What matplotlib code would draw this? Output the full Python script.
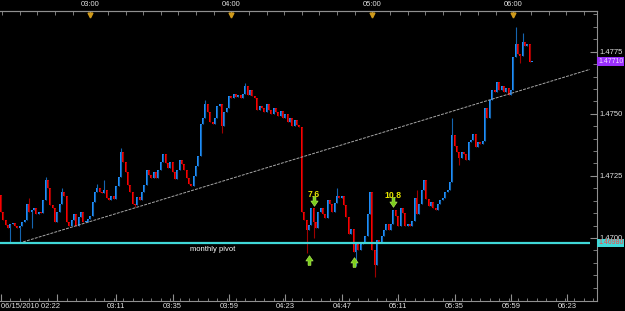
import matplotlib.pyplot as plt
import numpy as np
from matplotlib.path import Path
from matplotlib.transforms import blended_transform_factory

plt.rcParams['font.family'] = ['Liberation Sans Narrow', 'DejaVu Sans Condensed',
                               'Liberation Sans', 'DejaVu Sans']

# EURUSD-style 1 minute bars from 06/15/2010 02:22, closes in pips above 1.4700
base = 1.4700
first_open = 17.3
closes = [10.5, 7.3, 5.2, 4.0, 5.6, 6.0, 4.8, 4.0, 4.8, 6.4,
          7.3, 13.7, 10.5, 11.3, 12.1, 9.7, 10.5, 10.1, 15.3, 23.4,
          20.2, 13.3, 12.1, 6.4, 10.5, 13.7, 18.5, 16.9, 6.4, 4.8,
          7.3, 9.7, 4.8, 8.5, 10.5, 6.4, 6.4, 7.7, 8.9, 14.5,
          18.5, 20.2, 18.5, 18.1, 19.3, 16.1, 15.3, 16.9, 15.7, 21.0,
          24.6, 34.7, 30.6, 26.6, 21.4, 18.5, 13.7, 13.3, 16.5, 15.3,
          18.5, 21.4, 27.4, 25.4, 24.2, 26.6, 24.2, 27.4, 30.6, 33.9,
          30.2, 28.2, 30.6, 26.6, 23.8, 27.4, 31.4, 29.8, 27.4, 24.2,
          21.8, 21.0, 25.0, 29.0, 33.0, 45.9, 48.4, 54.0, 50.8, 46.7,
          45.9, 48.4, 53.2, 54.0, 45.1, 50.8, 52.4, 57.2, 56.4, 58.0,
          56.8, 57.6, 56.4, 58.0, 61.3, 57.6, 59.6, 57.2, 56.4, 51.6,
          53.2, 52.4, 50.8, 54.0, 51.6, 50.0, 52.4, 50.8, 49.2, 51.2,
          48.4, 50.0, 46.7, 48.4, 45.1, 47.6, 45.5, 44.7, 10.5, 7.3,
          3.2, 5.2, 12.1, 6.4, 4.0, 10.5, 12.1, 9.7, 8.1, 15.3,
          13.7, 10.5, 14.1, 16.9, 16.1, 16.9, 13.3, 8.5, 1.6, 3.6,
          -5.6, -2.4, -4.8, -2.4, -2.0, 0.8, 9.7, 18.5, -4.8, -10.9,
          -0.8, -1.6, 0.8, 3.0, 5.6, 3.2, 5.6, 11.3, 8.9, 4.8,
          12.1, 10.1, 4.8, 5.6, 4.8, 6.9, 16.1, 9.7, 13.7, 19.3,
          23.4, 15.7, 12.9, 14.5, 12.1, 11.3, 13.7, 15.3, 16.1, 18.5,
          19.3, 22.6, 41.5, 37.1, 34.7, 32.2, 34.7, 33.9, 31.4, 38.7,
          39.5, 41.9, 36.7, 38.7, 37.9, 39.1, 52.4, 48.4, 55.6, 59.6,
          58.8, 62.9, 59.6, 61.3, 58.8, 60.5, 57.6, 59.6, 72.9, 78.2,
          74.2, 73.3, 79.0, 77.4, 78.2, 70.9, 71.0]
high_wicks = {12: 16.1, 19: 24.6, 26: 20.2, 41: 21.8, 44: 23.4, 51: 36.3,
              87: 55.6, 104: 62.5, 143: 20.2, 177: 19.3, 192: 48.4,
              219: 85.0, 222: 82.6}
low_wicks = {4: -2.0, 8: -1.6, 13: 4.0, 57: 12.5, 94: 42.3, 130: -6.0,
             133: 0.0, 151: -11.3, 159: -15.7, 195: 29.4, 221: 70.5}

bottom_bars = [0, 24, 49, 73, 97, 121, 145, 169, 193, 217, 241]
bottom_labels = ['06/15/2010 02:22', '', '03:11', '03:35', '03:59', '04:23',
                 '04:47', '05:11', '05:35', '05:59', '06:23']
hour_bars = [38, 98, 158, 218]
hour_labels = ['03:00', '04:00', '05:00', '06:00']
price_ticks = [1.4700, 1.4725, 1.4750, 1.4775]

pivot = 1.46980
trend_bars = [9.4, 250.6]
trend_prices = [1.46984, 1.47679]

sell_bars = [133, 167]
sell_prices = [1.47149, 1.47145]
sell_texts = ['7.6', '10.8']
buy_bars = [131, 150]
buy_prices = [1.46911, 1.46903]

c = base + np.array(closes) / 1e4
o = np.r_[base + first_open / 1e4, c[:-1]]
hi = np.maximum(o, c)
lo = np.minimum(o, c)
for b, v in high_wicks.items():
    hi[b] = base + v / 1e4
for b, v in low_wicks.items():
    lo[b] = base + v / 1e4
x = np.arange(len(c))
up = c >= o

fig = plt.figure(figsize=(6.25, 3.11), dpi=100, facecolor='black')
ax = fig.add_axes([0, 10 / 311, 597 / 625, 290 / 311])
ax.set_facecolor('black')

ax.vlines(x[up], lo[up], hi[up], color='#1565b0', lw=0.8)
ax.vlines(x[~up], lo[~up], hi[~up], color='#a00000', lw=0.8)
body = np.maximum(np.abs(c - o), 0.00003)
ax.bar(x[up], body[up], bottom=o[up], width=0.85, color='#1e90ff', lw=0)
ax.bar(x[~up], body[~up], bottom=c[~up], width=0.85, color='#ff0000', lw=0)

ax.hlines(pivot, -1, 250.6, color='#40d8d8', lw=1.6, zorder=3)
ax.plot(trend_bars, trend_prices, color='#a8a8a8', lw=0.7, ls=(0, (3, 1.2)), zorder=4)
ax.text(90, pivot - 0.00026, 'monthly pivot', color='white', fontsize=5.5,
        ha='center', va='center')

down_arrow = Path([(-0.3, 1), (0.3, 1), (0.3, 0.1), (0.75, 0.1), (0, -1),
                   (-0.75, 0.1), (-0.3, 0.1), (-0.3, 1)])
up_arrow = Path([(-0.3, -1), (0.3, -1), (0.3, -0.1), (0.75, -0.1), (0, 1),
                 (-0.75, -0.1), (-0.3, -0.1), (-0.3, -1)])
for b, p, t in zip(sell_bars, sell_prices, sell_texts):
    ax.plot(b, p, marker=down_arrow, ms=7, color='#7ccf1c', mec='#b8f060', mew=0.4, zorder=6)
    ax.text(b, p + 0.00027, t, color='#e6e600', fontsize=6.2, ha='center',
            va='center', fontweight='bold', zorder=6)
for b, p in zip(buy_bars, buy_prices):
    ax.plot(b, p, marker=up_arrow, ms=7, color='#7ccf1c', mec='#b8f060', mew=0.4, zorder=6)

ax.set_xlim(-0.43, 253.6)
ax.set_ylim(1.46746, 1.47914)

for s in ['top', 'bottom', 'right']:
    ax.spines[s].set_color('#909090')
ax.spines['left'].set_visible(False)

ax.yaxis.tick_right()
ax.set_yticks(price_ticks, [f'{p:.4f}' for p in price_ticks])
ax.set_yticks(np.arange(1.4680, 1.4791, 0.0005), minor=True)
ax.tick_params(axis='y', which='both', direction='in', color='#909090',
               labelcolor='#e0e0e0', labelsize=5.5, pad=2)
ax.tick_params(axis='y', which='major', length=5)
ax.tick_params(axis='y', which='minor', length=3)

ax.set_xticks(bottom_bars, bottom_labels)
ax.set_xticks(np.arange(0, 254, 4), minor=True)
ax.get_xticklabels()[0].set_ha('left')
ax.tick_params(axis='x', which='both', direction='in', color='#909090',
               labelcolor='#e0e0e0', labelsize=5.5, pad=1.5)
ax.tick_params(axis='x', which='major', length=5)
ax.tick_params(axis='x', which='minor', length=2)

top = ax.secondary_xaxis('top')
top.set_xticks(hour_bars, hour_labels)
top.set_xticks(np.arange(0.5, 254, 7.5), minor=True)
top.tick_params(which='both', direction='in', color='#909090',
                labelcolor='#e0e0e0', labelsize=5.5, pad=2, length=3)
top.spines['top'].set_color('#909090')
trans = blended_transform_factory(ax.transData, ax.transAxes)
ax.plot(hour_bars, [0.985] * len(hour_bars), 'v', color='#d09a1a', ms=3.5,
        transform=trans, clip_on=False, zorder=7)

ty = blended_transform_factory(ax.transAxes, ax.transData)
ax.text(1.002, c[-1], f'{c[-1]:.5f}', transform=ty, fontsize=5, color='#f4d8ff',
        ha='left', va='center', zorder=10, clip_on=False,
        bbox=dict(boxstyle='square,pad=0.12', fc='#9b30ff', ec='none'))
ax.text(1.002, pivot, f'{pivot:.5f}', transform=ty, fontsize=5, color='#ff4040',
        ha='left', va='center', zorder=10, clip_on=False,
        bbox=dict(boxstyle='square,pad=0.12', fc='#40d8d8', ec='none'))

fig.savefig('out.png', dpi=100, facecolor='black')
